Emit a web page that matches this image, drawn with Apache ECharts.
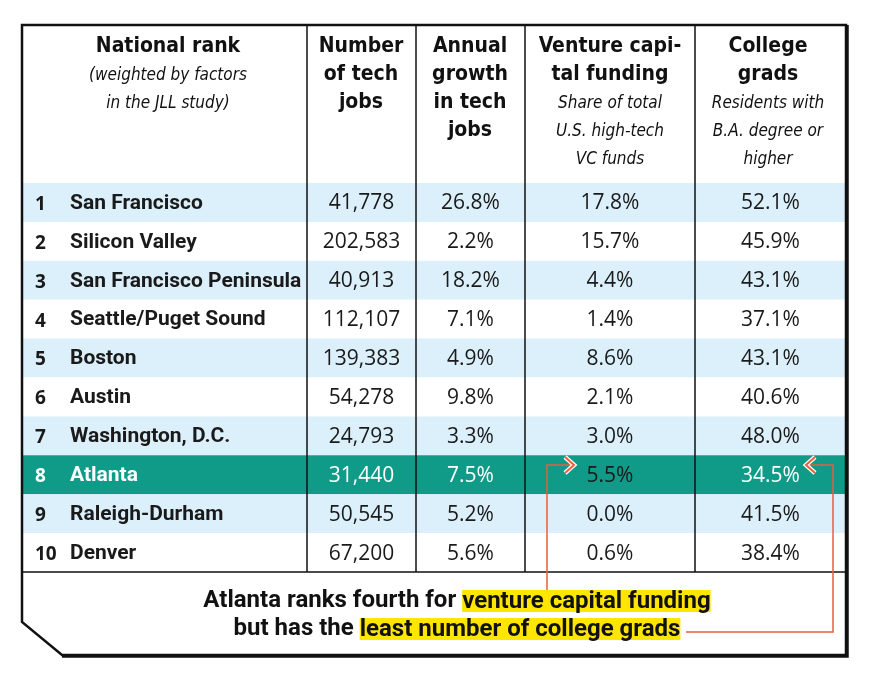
<!DOCTYPE html>
<html>
<head>
<meta charset="utf-8">
<script src="https://cdn.jsdelivr.net/npm/echarts@6/dist/echarts.min.js"></script>
<style>html,body{margin:0;background:#fff}#chart{width:871px;height:679px}</style>
</head>
<body>
<div id="chart"></div>
<script>
var ranks = [1, 2, 3, 4, 5, 6, 7, 8, 9, 10];
var cities = ['San Francisco', 'Silicon Valley', 'San Francisco Peninsula', 'Seattle/Puget Sound', 'Boston',
    'Austin', 'Washington, D.C.', 'Atlanta', 'Raleigh-Durham', 'Denver'];
var techJobs = ['41,778', '202,583', '40,913', '112,107', '139,383', '54,278', '24,793', '31,440', '50,545', '67,200'];
var growth = ['26.8%', '2.2%', '18.2%', '7.1%', '4.9%', '9.8%', '3.3%', '7.5%', '5.2%', '5.6%'];
var vcShare = ['17.8%', '15.7%', '4.4%', '1.4%', '8.6%', '2.1%', '3.0%', '5.5%', '0.0%', '0.6%'];
var collegeGrads = ['52.1%', '45.9%', '43.1%', '37.1%', '43.1%', '40.6%', '48.0%', '34.5%', '41.5%', '38.4%'];
var highlightRow = 7;

// layout
var L = 22, W = 824, TOP = 25, HEAD = 183, ROWS_END = 572, BOTTOM = 655;
var edges = [0, 285, 394, 503, 673, 824];
var orange = '#e8603c', teal = '#0f9b88', blue = '#dcf0fb';
var headFont = '"Liberation Sans Narrow","DejaVu Sans Condensed",sans-serif';
var bodyFont = '"Open Sans",Roboto,sans-serif';

var cols = [techJobs, growth, vcShare, collegeGrads];
var cells = [];
ranks.forEach(function (r, i) {
    cells.push([0, i, String(r)]);
    cells.push([0.001, i, cities[i]]);
    cols.forEach(function (c, j) { cells.push([j + 1, i, c[i]]); });
});

function renderCell(params, api) {
    var col = api.value(0), row = api.value(1), txt = cells[params.dataIndex][2];
    var p = api.coord([0, row]);
    var isHi = row === highlightRow;
    var color = isHi ? '#fff' : '#1a1a1a';
    if (col === 0) {
        return { type: 'text', style: { x: L + 13, y: p[1] + 2, text: txt, font: 'bold 19px ' + bodyFont, fill: color, verticalAlign: 'middle' } };
    }
    if (col < 1) {
        return { type: 'text', style: { x: L + 48, y: p[1] + 1, text: txt, font: 'bold 21px Roboto,sans-serif', fill: color, verticalAlign: 'middle' } };
    }
    var cx = api.coord([(edges[col] + edges[col + 1]) / 2, row])[0];
    if (isHi && col === 3) color = '#1a1a1a';
    return { type: 'text', style: { x: cx, y: p[1] + 1, text: txt, font: '21px ' + bodyFont, fill: color, align: 'center', verticalAlign: 'middle' } };
}

function renderRow(params, api) {
    var row = api.value(0);
    var p = api.coord([0, row]);
    var h = api.size([0, 1])[1];
    var fill = row === highlightRow ? teal : (row % 2 === 0 ? blue : '#fff');
    return { type: 'rect', shape: { x: L, y: p[1] - h / 2, width: W, height: h }, style: { fill: fill } };
}

var g = [];
// vertical column lines
edges.slice(1, 5).forEach(function (e) {
    g.push({ type: 'line', shape: { x1: L + e, y1: TOP, x2: L + e, y2: ROWS_END }, style: { stroke: '#111', lineWidth: 1.5 }, z: 10 });
});
g.push({ type: 'line', shape: { x1: L, y1: ROWS_END, x2: L + W, y2: ROWS_END }, style: { stroke: '#111', lineWidth: 1.5 }, z: 10 });
// outer border
g.push({ type: 'polygon', shape: { points: [[L, TOP], [L + W, TOP], [L + W, BOTTOM], [62, BOTTOM], [L, 622]] },
    style: { fill: 'none', stroke: '#111', lineWidth: 2.5 }, z: 11 });
g.push({ type: 'polyline', shape: { points: [[L + W + 1.5, TOP], [L + W + 1.5, BOTTOM + 1.5], [62, BOTTOM + 1.5]] },
    style: { fill: 'none', stroke: '#111', lineWidth: 2.5 }, z: 11 });

// header texts
function ht(x, y, t, italic) {
    g.push({ type: 'text', z: 12, style: { x: x, y: y, text: t, align: 'center', verticalAlign: 'middle',
        font: italic ? 'italic 17px ' + headFont : 'bold 21px ' + headFont, fill: '#111' } });
}
ht(168, 47, 'National rank'); ht(168, 76, '(weighted by factors', 1); ht(168, 104, 'in the JLL study)', 1);
ht(361, 47, 'Number'); ht(361, 75, 'of tech'); ht(361, 103, 'jobs');
ht(470, 47, 'Annual'); ht(470, 75, 'growth'); ht(470, 103, 'in tech'); ht(470, 131, 'jobs');
ht(610, 47, 'Venture capi-'); ht(610, 75, 'tal funding'); ht(610, 104, 'Share of total', 1); ht(610, 132, 'U.S. high-tech', 1); ht(610, 160, 'VC funds', 1);
ht(768, 47, 'College'); ht(768, 75, 'grads'); ht(768, 104, 'Residents with', 1); ht(768, 132, 'B.A. degree or', 1); ht(768, 160, 'higher', 1);

// footer
var ff = 'bold 24px Roboto,sans-serif';
g.push({ type: 'text', z: 12, style: { x: 457, y: 601, align: 'center', verticalAlign: 'middle',
    text: '{n|Atlanta ranks fourth for }{h|venture capital funding}',
    rich: { n: { font: ff, fill: '#111' }, h: { font: ff, fill: '#111', backgroundColor: '#ffe600', padding: [0, 0, -2, 0] } } } });
g.push({ type: 'text', z: 12, style: { x: 457, y: 629, align: 'center', verticalAlign: 'middle',
    text: '{n|but has the }{h|least number of college grads}',
    rich: { n: { font: ff, fill: '#111' }, h: { font: ff, fill: '#111', backgroundColor: '#ffe600', padding: [0, 0, -2, 0] } } } });

// arrows
g.push({ type: 'polyline', z: 11, shape: { points: [[547, 590], [547, 465], [573, 465]] }, style: { fill: 'none', stroke: orange, lineWidth: 1.5 } });
g.push({ type: 'polyline', z: 13, shape: { points: [[565, 457], [574, 465], [565, 473]] }, style: { fill: 'none', stroke: '#fff', lineWidth: 4.5 } });
g.push({ type: 'polyline', z: 14, shape: { points: [[565, 457], [574, 465], [565, 473]] }, style: { fill: 'none', stroke: orange, lineWidth: 2 } });
g.push({ type: 'polyline', z: 13, shape: { points: [[686, 632], [833, 632], [833, 465], [807, 465]] }, style: { fill: 'none', stroke: orange, lineWidth: 1.5 } });
g.push({ type: 'polyline', z: 13, shape: { points: [[815, 457], [806, 465], [815, 473]] }, style: { fill: 'none', stroke: '#fff', lineWidth: 4.5 } });
g.push({ type: 'polyline', z: 14, shape: { points: [[815, 457], [806, 465], [815, 473]] }, style: { fill: 'none', stroke: orange, lineWidth: 2 } });

var chart = echarts.init(document.getElementById('chart'));
chart.setOption({
    animation: false,
    grid: { left: L, top: HEAD, width: W, height: ROWS_END - HEAD },
    xAxis: { type: 'value', min: 0, max: W, show: false },
    yAxis: { type: 'category', data: ranks.map(String), inverse: true, show: false },
    series: [
        { type: 'custom', renderItem: renderRow, data: ranks.map(function (r, i) { return [i]; }), encode: { y: 0 }, z: 1 },
        { type: 'custom', renderItem: renderCell, data: cells.map(function (c) { return [c[0], c[1]]; }), encode: { x: 0, y: 1 }, z: 5 }
    ],
    graphic: g
});
</script>
</body>
</html>
